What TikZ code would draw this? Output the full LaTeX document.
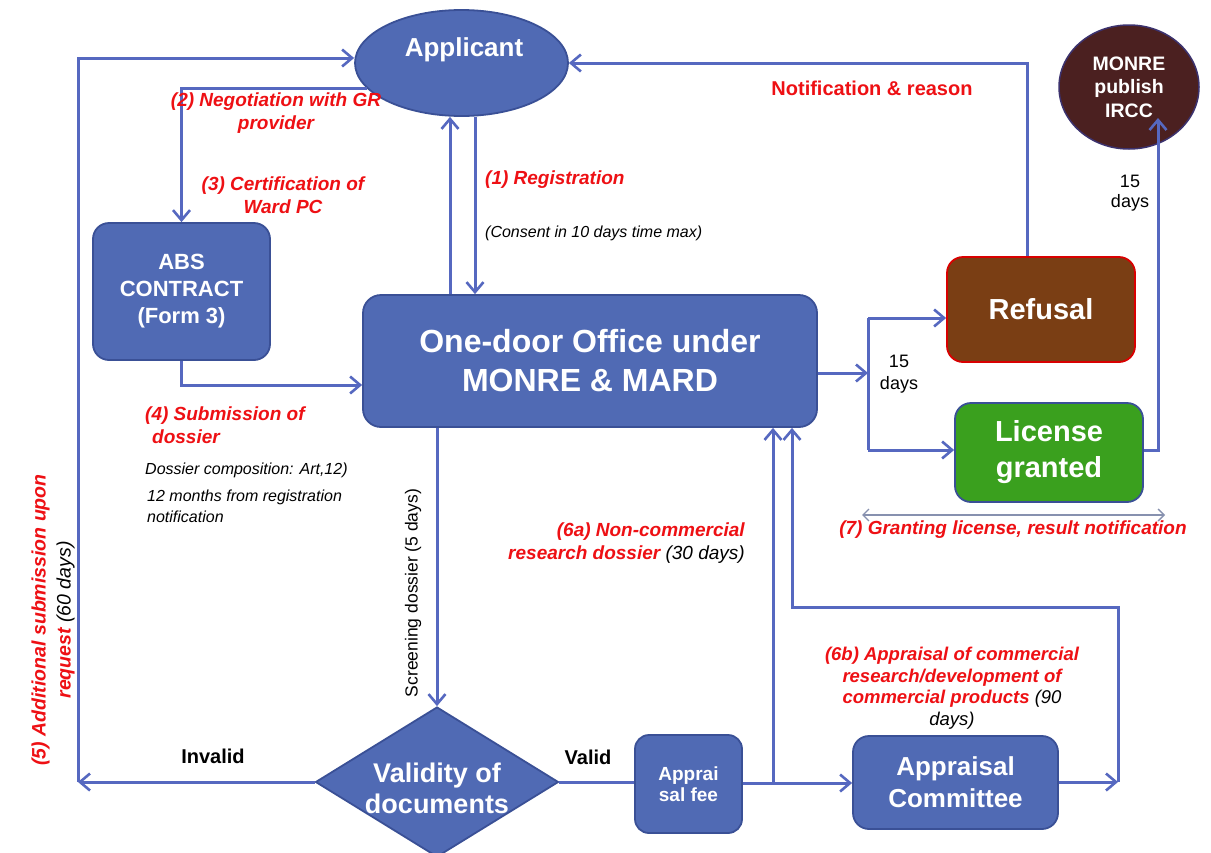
\documentclass[tikz,border=0pt]{standalone}
\usepackage{fontspec}
\setmainfont{Liberation Sans}
\usetikzlibrary{arrows.meta,shapes.geometric}

\definecolor{boxblue}{RGB}{80,106,180}
\definecolor{boxedge}{RGB}{58,80,150}
\definecolor{linec}{RGB}{86,104,192}
\definecolor{refbrown}{RGB}{122,62,20}
\definecolor{licgreen}{RGB}{58,160,30}
\definecolor{circbrown}{RGB}{75,32,32}
\definecolor{labred}{RGB}{238,16,20}
\definecolor{thinc}{RGB}{135,145,175}

\newcommand\fsz[2]{\fontsize{#1}{#2}\selectfont}

\begin{document}
\begin{tikzpicture}[x=1pt,y=-1pt,
  ln/.style={draw=linec, line width=3pt},
  arr/.style={ln, -{Straight Barb[length=10pt,width=17pt,line width=2.6pt]}},
  bbox/.style={rectangle, rounded corners=16pt, fill=boxblue, draw=boxedge, line width=1.8pt, text=white, align=center, inner sep=0pt},
  redlab/.style={text=labred, font=\fsz{19}{23}\bfseries\itshape, inner sep=0pt},
  note/.style={font=\fsz{16}{21}\itshape, inner sep=0pt},
  plain/.style={font=\fsz{18}{22}, inner sep=0pt},
  blk/.style={font=\fsz{20}{24}\bfseries, inner sep=0pt}
]
\useasboundingbox (0,0) rectangle (1211,852);
\fill[white] (0,0) rectangle (1211,852);

% coordinates
\coordinate (cInv) at (78,782);
\coordinate (cTop) at (78,58);
\coordinate (cUp) at (450,0);
\coordinate (cDn) at (475,0);
\coordinate (cAbs) at (182,385);
\coordinate (cMid) at (868,373);
\coordinate (bT) at (868,318);
\coordinate (bB) at (868,450);
\coordinate (rU) at (1027,63);
\coordinate (cL) at (1158,450);
\coordinate (cC) at (1158,118);
\coordinate (d7a) at (862,515);
\coordinate (d7b) at (1165,515);
\coordinate (cScr) at (437,0);
\coordinate (cF) at (773,783);
\coordinate (cE) at (1118,782);
\coordinate (cH) at (792,607);

% nodes
\node[ellipse, fill=boxblue, draw=boxedge, line width=1.8pt, minimum width=213pt, minimum height=106pt, inner sep=0pt] (app) at (461.5,63) {};
\node[text=white, font=\fsz{26}{30}\bfseries, inner sep=0pt] (apptxt) at (464,50) {Applicant};

\node[ellipse, fill=circbrown, draw={rgb,255:red,60;green,50;blue,110}, line width=1.5pt, minimum width=140pt, minimum height=124pt, inner sep=0pt, text=white, align=center, font=\fsz{19.5}{23.5}\bfseries] (mon) at (1129,87) {MONRE\\publish\\IRCC};

\node[bbox, minimum width=177pt, minimum height=137pt, font=\fsz{22}{27}\bfseries] (abs) at (181.5,291.5) {ABS\\CONTRACT\\(Form 3)};

\node[bbox, rounded corners=18pt, minimum width=454pt, minimum height=132pt, font=\fsz{32}{39}\bfseries] (od) at (590,361) {One-door Office under\\MONRE \& MARD};

\node[bbox, fill=refbrown, draw=red!85!black, minimum width=188pt, minimum height=105pt, font=\fsz{29}{34}\bfseries] (ref) at (1041,309.5) {Refusal};

\node[bbox, fill=licgreen, draw=boxedge, minimum width=188pt, minimum height=99pt, font=\fsz{29}{36}\bfseries] (lic) at (1049,452.5) {License\\granted};

\node[diamond, fill=boxblue, draw=boxedge, line width=1.8pt, minimum width=243pt, minimum height=150pt, inner sep=0pt] (val) at (437,782) {};
\node[text=white, align=center, font=\fsz{27}{31}\bfseries, inner sep=0pt] (valtxt) at (437,788) {Validity of\\documents};

\node[bbox, rounded corners=14pt, minimum width=107pt, minimum height=98pt, font=\fsz{19}{21}\bfseries] (fee) at (688.5,784) {Apprai\\sal fee};

\node[bbox, rounded corners=16pt, minimum width=205pt, minimum height=93pt, font=\fsz{26}{32}\bfseries] (com) at (955.5,782.5) {Appraisal\\Committee};

% connectors
\draw[arr] (val.west) -- (cInv);
\draw[arr] (cInv) -- (cTop) -- (app.west |- cTop);
\draw[arr] (app.195) -| (abs.north);
\draw[arr] (abs.south) |- (od.west |- cAbs);
\draw[arr] (od.north -| cUp) -- (app.south -| cUp);
\draw[arr] (app.south -| cDn) -- (od.north -| cDn);
\draw[arr] (od.east |- cMid) -- (cMid);
\draw[ln] (bT) -- (bB);
\draw[arr] (bT) -- (ref.west |- bT);
\draw[arr] (bB) -- (lic.west |- bB);
\draw[arr] (ref.north -| rU) -- (rU) -- (app.east |- rU);
\draw[arr] (lic.east |- cL) -- (cL) -- (cC);
\draw[draw=thinc, line width=1.3pt, {Straight Barb[length=6pt,width=12pt]}-{Straight Barb[length=6pt,width=12pt]}] (d7a) -- (d7b);
\draw[arr] (od.south -| cScr) -- (val.north);
\draw[ln] (val.east) -- (fee.west |- val.east);
\draw[arr] (fee.east |- cF) -- (com.west |- cF);
\draw[arr] (cF) -- (od.south -| cF);
\draw[arr] (com.east |- cE) -- (cE);
\draw[arr] (cE) |- (cH) -- (od.south -| cH);

% labels
\node[redlab, align=center] (l2) at (276,113.5) {(2) Negotiation with GR\\provider};
\node[redlab, align=center] (l3) at (283,195) {(3) Certification of\\Ward PC};
\node[redlab, anchor=west] (l1) at (485,180) {(1) Registration};
\node[note, anchor=west] (l1n) at (485,233) {(Consent in 10 days time max)};
\node[text=labred, font=\fsz{20}{24}\bfseries, inner sep=0pt] (lnot) at (872,88) {Notification \& reason};
\node[plain, align=center] (l15a) at (899,374.5) {15\\days};
\node[plain, align=center, font=\fsz{18}{20}] (l15b) at (1130,193) {15\\days};
\node[redlab] (l7) at (1013,530) {(7) Granting license, result notification};
\node[redlab, align=left, anchor=west] (l4) at (145,425.5) {(4) Submission of\\\hspace*{7pt}dossier};
\node[note, anchor=west] (l4a) at (145,470) {Dossier composition: Art,12)};
\node[note, align=left, anchor=west, font=\fsz{16}{21}\itshape] (l4b) at (147,506.5) {12 months from registration\\notification};
\node[redlab, rotate=90, align=center, font=\fsz{19.5}{25}\bfseries\itshape] (l5) at (53,620) {(5) Additional submission upon\\request {\color{black}\mdseries (60 days)}};
\node[plain, rotate=90, font=\fsz{17.5}{20}] (lscr) at (413,593) {Screening dossier (5 days)};
\node[blk] (linv) at (213,756) {Invalid};
\node[blk] (lval) at (588,757) {Valid};
\node[redlab, align=right, anchor=east] (l6a) at (745,543) {(6a) Non-commercial\\research dossier {\color{black}\mdseries (30 days)}};
\node[redlab, align=center, font=\fsz{18.5}{21.5}\bfseries\itshape] (l6b) at (952,688) {(6b) Appraisal of commercial\\research/development of\\commercial products {\color{black}\mdseries (90}\\{\color{black}\mdseries days)}};
\end{tikzpicture}
\end{document}
